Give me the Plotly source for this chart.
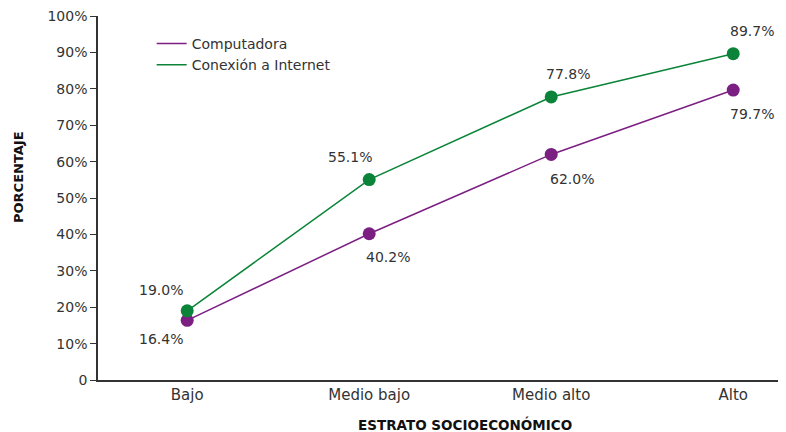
import plotly.graph_objects as go

# estrato socioeconómico vs. porcentaje de hogares
estratos = ["Bajo", "Medio bajo", "Medio alto", "Alto"]
computadora = [16.4, 40.2, 62.0, 79.7]
internet = [19.0, 55.1, 77.8, 89.7]

y_ticks = [0, 10, 20, 30, 40, 50, 60, 70, 80, 90, 100]
y_ticktext = ["0", "10%", "20%", "30%", "40%", "50%", "60%", "70%", "80%", "90%", "100%"]

# label offsets (px) per point
internet_shift = [(-26, 21), (-19, 23), (17, 23), (19, 23)]
computadora_shift = [(-26, -19), (19, -23), (21, -25), (19, -24)]

PURPLE = "#7b1f82"
GREEN = "#0b8439"
TEXT = "#333333"
FONT = "DejaVu Sans"

fig = go.Figure()

for name, vals, color in [("Computadora", computadora, PURPLE),
                          ("Conexión a Internet", internet, GREEN)]:
    fig.add_trace(go.Scatter(
        x=estratos, y=vals,
        mode="lines+markers",
        line=dict(color=color, width=1.5),
        marker=dict(color=color, size=13),
        showlegend=False,
    ))
    # legend entry: line only
    fig.add_trace(go.Scatter(
        x=[None], y=[None],
        mode="lines",
        name=name,
        line=dict(color=color, width=1.5),
    ))

for cat, v, (dx, dy) in zip(estratos, internet, internet_shift):
    fig.add_annotation(x=cat, y=v, text=f"{v:.1f}%", showarrow=False,
                       xshift=dx, yshift=dy,
                       font=dict(family=FONT, size=14, color=TEXT))
for cat, v, (dx, dy) in zip(estratos, computadora, computadora_shift):
    fig.add_annotation(x=cat, y=v, text=f"{v:.1f}%", showarrow=False,
                       xshift=dx, yshift=dy,
                       font=dict(family=FONT, size=14, color=TEXT))

fig.add_annotation(x=0.533, y=-0.121, xref="paper", yref="paper",
                   text="<b>ESTRATO SOCIOECONÓMICO</b>", showarrow=False,
                   yanchor="middle",
                   font=dict(family=FONT, size=13.5, color="#111111"))
fig.add_annotation(x=-0.1147, y=0.558, xref="paper", yref="paper",
                   text="<b>PORCENTAJE</b>", showarrow=False, textangle=-90,
                   xanchor="center",
                   font=dict(family=FONT, size=13, color="#111111"))

# page body has an 8px margin, so the figure is 8px smaller than the window
fig.update_layout(
    width=778, height=424,
    margin=dict(l=90, r=0, t=8, b=52),
    paper_bgcolor="white", plot_bgcolor="white",
    font=dict(family=FONT, size=14, color=TEXT),
    legend=dict(x=0.078, y=0.967, xanchor="left", yanchor="top",
                itemwidth=30, tracegroupgap=0,
                font=dict(family=FONT, size=14, color=TEXT),
                bgcolor="rgba(0,0,0,0)"),
)
fig.update_xaxes(
    range=[-0.49, 3.29], showgrid=False, zeroline=False, automargin=False,
    showline=True, linecolor="#333333", linewidth=1.5,
    ticks="", tickfont=dict(family=FONT, size=15, color=TEXT),
)
fig.update_yaxes(
    range=[0, 100.05], tickvals=y_ticks, ticktext=y_ticktext,
    showgrid=False, zeroline=False, automargin=False,
    showline=True, linecolor="#333333", linewidth=1.5,
    ticks="outside", ticklen=6, tickcolor="#333333",
    ticklabeloverflow="allow",
    tickfont=dict(family=FONT, size=14, color=TEXT),
)

fig.write_html("out.html")
